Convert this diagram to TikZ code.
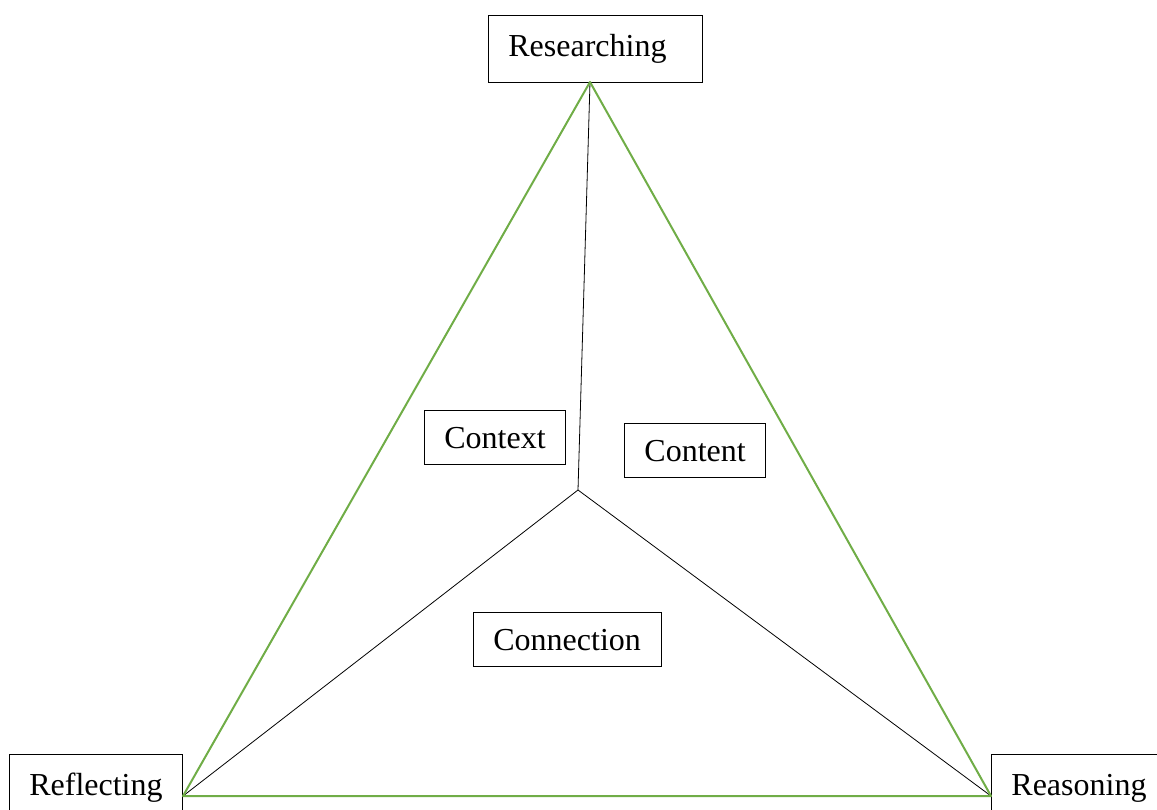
\documentclass[tikz,border=0pt]{standalone}
\usepackage{fontspec}
\setmainfont{Liberation Serif}
\usetikzlibrary{positioning}
\definecolor{edgegreen}{RGB}{112,173,71}
\tikzset{
  box/.style={draw, line width=0.8pt, minimum height=67pt, inner xsep=20pt,
    text height=22pt, text depth=7pt, font=\fontsize{32}{38}\selectfont},
  smallbox/.style={box, minimum height=54pt, text depth=0pt},
  side/.style={edgegreen, line width=2pt, line join=round}
}

\begin{document}
\begin{tikzpicture}[x=1pt,y=-1pt]
\useasboundingbox (0,0) rectangle (1157,810);

\coordinate (top) at (590,82);
\coordinate (left) at (183,796);
\coordinate (right) at (991,796);
\coordinate (mid) at (578,490);

\node[box, anchor=north west, text width=174pt, align=left] (res) at (488,15) {Researching};
\node[box, anchor=north east] (refl) at (left |- 0,754) {Reflecting};
\node[box, anchor=north west] (reas) at (right |- 0,754) {Reasoning};

\node[smallbox, anchor=north west] (ctx) at (424,410) {Context};
\node[smallbox, anchor=north west] (cnt) at (624,423) {Content};
\node[smallbox, anchor=north west] (conn) at (473,612) {Connection};

\draw[line width=0.8pt] (top) -- (mid);
\draw[line width=0.8pt] (mid) -- (left);
\draw[line width=0.8pt] (mid) -- (right);
\draw[side] (top) -- (right) -- (left) -- cycle;
\end{tikzpicture}
\end{document}
